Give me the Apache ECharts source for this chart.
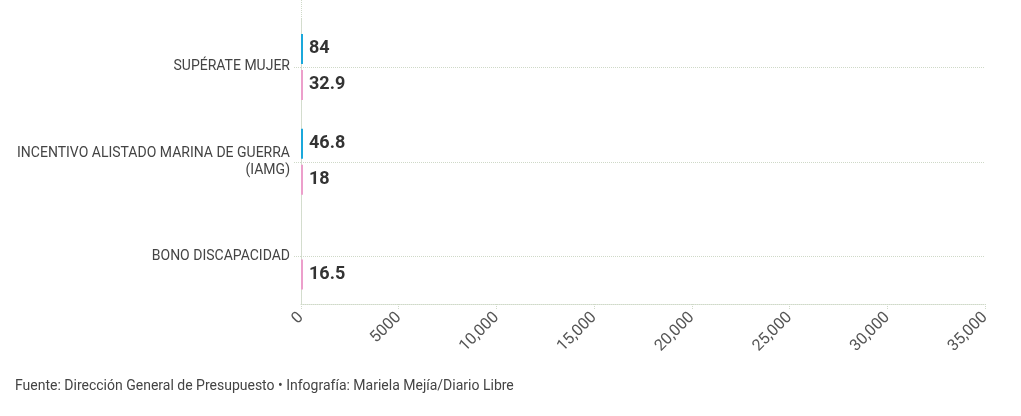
<!DOCTYPE html>
<html>
<head>
<meta charset="utf-8">
<script src="https://cdn.jsdelivr.net/npm/echarts@6/dist/echarts.min.js"></script>
<style>html,body{margin:0;padding:0;background:#fff}#c{width:1021px;height:416px}</style>
</head>
<body>
<div id="c"></div>
<script>
const categories = ['SUPÉRATE MUJER', 'INCENTIVO ALISTADO MARINA DE GUERRA\n(IAMG)', 'BONO DISCAPACIDAD'];
const seriesA = [84, 46.8, null];
const seriesB = [32.9, 18, 16.5];
const xTickValues = [0, 5000, 10000, 15000, 20000, 25000, 30000, 35000];
const xTickLabels = ['0', '5000', '10,000', '15,000', '20,000', '25,000', '30,000', '35,000'];
const footer = 'Fuente: Dirección General de Presupuesto • Infografía: Mariela Mejía/Diario Libre';

const FONT = 'Roboto';
const gridColor = '#cfd9c8';
const chart = echarts.init(document.getElementById('c'), null, {renderer: 'canvas'});
chart.setOption({
  animation: false,
  textStyle: {fontFamily: FONT},
  title: {
    text: footer, left: 10, top: 374,
    textStyle: {fontFamily: FONT, fontSize: 14, fontWeight: 'normal', color: '#444'}
  },
  grid: {left: 301, right: 36, top: 19.5, bottom: 112, containLabel: false},
  xAxis: {
    type: 'value', min: 0, max: 35000, interval: 5000,
    axisLine: {show: true, lineStyle: {color: gridColor, type: 'dotted', width: 1}},
    axisTick: {show: true, length: 6, lineStyle: {color: gridColor, type: 'dotted'}},
    splitLine: {show: false},
    axisLabel: {
      rotate: 45, fontSize: 16, color: '#555', margin: 11, fontFamily: FONT,
      formatter: v => { const i = xTickValues.indexOf(v); return i >= 0 ? xTickLabels[i] : ''; }
    }
  },
  yAxis: {
    type: 'category', data: categories, inverse: true,
    axisLine: {show: true, lineStyle: {color: gridColor, type: 'dotted', width: 1}},
    axisTick: {show: true, alignWithLabel: true, length: 7, lineStyle: {color: gridColor, type: 'dotted'}},
    splitLine: {show: true, alignWithLabel: true, lineStyle: {color: gridColor, type: 'dotted', width: 1}},
    axisLabel: {fontSize: 14, color: '#444', margin: 11, lineHeight: 17, align: 'right', fontFamily: FONT}
  },
  graphic: [{
    type: 'line', shape: {x1: 301.5, y1: 0, x2: 301.5, y2: 20},
    style: {stroke: gridColor, lineDash: [1, 1]}, silent: true
  }],
  series: [
    {
      type: 'bar', data: seriesA, barWidth: 30, barGap: '20%', barMinHeight: 2,
      itemStyle: {color: '#1ba8db'},
      label: {show: true, position: 'right', distance: 6, fontSize: 18, fontWeight: 'bold', color: '#333', fontFamily: FONT}
    },
    {
      type: 'bar', data: seriesB, barWidth: 30, barGap: '20%', barMinHeight: 2,
      itemStyle: {color: '#ec9fcb'},
      label: {show: true, position: 'right', distance: 6, fontSize: 18, fontWeight: 'bold', color: '#333', fontFamily: FONT}
    }
  ]
});
</script>
</body>
</html>
